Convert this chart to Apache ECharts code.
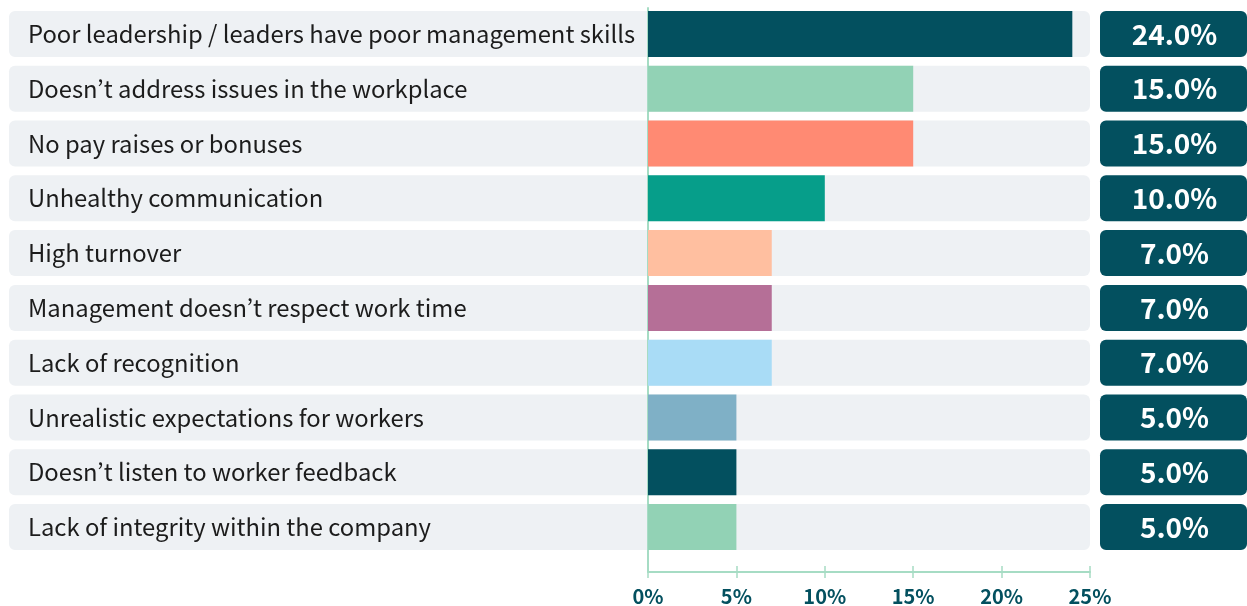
<!DOCTYPE html>
<html>
<head>
<meta charset="utf-8">
<script src="https://cdn.jsdelivr.net/npm/echarts@6/dist/echarts.min.js"></script>
<style>
  html, body { margin: 0; padding: 0; background: #ffffff; }
  #chart { width: 1247px; height: 606px; }
</style>
</head>
<body>
<div id="chart"></div>
<script>
// Reasons employees give for leaving, share of responses
const categories = [
  'Poor leadership / leaders have poor management skills',
  'Doesn\u2019t address issues in the workplace',
  'No pay raises or bonuses',
  'Unhealthy communication',
  'High turnover',
  'Management doesn\u2019t respect work time',
  'Lack of recognition',
  'Unrealistic expectations for workers',
  'Doesn\u2019t listen to worker feedback',
  'Lack of integrity within the company'
];
const values = [24.0, 15.0, 15.0, 10.0, 7.0, 7.0, 7.0, 5.0, 5.0, 5.0];
const barColors = [
  '#03505f', '#92d2b5', '#ff8a73', '#069e8a', '#ffbfa0',
  '#b56f97', '#a9dcf6', '#7fb0c6', '#03505f', '#92d2b5'
];
const valueLabels = values.map(v => v.toFixed(1) + '%');
const xMin = 0;
const xMax = 25;
const xStep = 5;

const FONT = '"Noto Sans CJK KR", "Noto Sans", sans-serif';
const DARK = '#03505f';
const AXIS_GREEN = '#a6dcc4';
const TRACK = '#eef1f4';

const chart = echarts.init(document.getElementById('chart'), null, { renderer: 'canvas' });

const option = {
  backgroundColor: '#ffffff',
  animation: false,
  textStyle: { fontFamily: FONT },
  grid: [
    { left: 648, width: 442, top: 6.5, height: 548, containLabel: false },
    { left: 648, width: 442, top: 8, bottom: 34, containLabel: false }
  ],
  xAxis: [
    { gridIndex: 0, type: 'value', min: xMin, max: xMax, show: false },
    {
      gridIndex: 1, type: 'value', min: xMin, max: xMax, interval: xStep,
      position: 'bottom',
      axisLine: { show: true, lineStyle: { color: AXIS_GREEN, width: 2 } },
      axisTick: { show: true, inside: true, length: 6, lineStyle: { color: AXIS_GREEN, width: 1.5 } },
      splitLine: { show: false },
      axisLabel: {
        show: true, margin: 14, color: DARK, fontSize: 20, fontWeight: 'bold',
        fontFamily: FONT, formatter: v => v + '%'
      }
    },
    {
      gridIndex: 1, type: 'value', min: xMin, max: xMax, interval: xStep,
      position: 'bottom',
      axisLine: { show: false },
      axisTick: { show: true, inside: false, length: 6, lineStyle: { color: AXIS_GREEN, width: 1.5 } },
      splitLine: { show: false },
      axisLabel: { show: false }
    }
  ],
  yAxis: [
    {
      gridIndex: 0, type: 'category', data: categories, inverse: true,
      axisLine: { show: false }, axisTick: { show: false }, splitLine: { show: false },
      axisLabel: {
        show: true, align: 'left', margin: 620, color: '#1c1c1c',
        fontSize: 23.8, fontFamily: FONT
      },
      z: 5
    },
    {
      gridIndex: 1, type: 'value', min: 0, max: 1,
      axisLine: { show: true, onZero: false, lineStyle: { color: AXIS_GREEN, width: 2 } },
      axisTick: { show: false }, splitLine: { show: false }, axisLabel: { show: false },
      z: 1
    }
  ],
  series: [
    {
      // light track behind each row, running from the label area to the axis max
      type: 'custom',
      xAxisIndex: 0, yAxisIndex: 0,
      z: 0,
      data: categories.map((c, i) => [xMax, i]),
      renderItem: (params, api) => {
        const end = api.coord([api.value(0), api.value(1)]);
        const h = api.size([0, 1])[1] * 0.84;
        return {
          type: 'rect',
          shape: { x: 9, y: end[1] - h / 2, width: end[0] - 9, height: h, r: 6 },
          style: { fill: TRACK }
        };
      }
    },
    {
      type: 'bar',
      xAxisIndex: 0, yAxisIndex: 0,
      z: 3,
      barWidth: 46,
      data: values.map((v, i) => ({ value: v, itemStyle: { color: barColors[i] } }))
    },
    {
      // value badges at the right edge of each row
      type: 'custom',
      xAxisIndex: 0, yAxisIndex: 0,
      z: 4,
      data: values.map((v, i) => [xMax, i, v]),
      renderItem: (params, api) => {
        const end = api.coord([api.value(0), api.value(1)]);
        const h = api.size([0, 1])[1] * 0.84;
        const x0 = end[0] + 10;
        const w = 147;
        return {
          type: 'group',
          children: [
            {
              type: 'rect',
              shape: { x: x0, y: end[1] - h / 2, width: w, height: h, r: 6 },
              style: { fill: DARK }
            },
            {
              type: 'text',
              style: {
                x: x0 + w / 2 + 1, y: end[1],
                text: valueLabels[params.dataIndex],
                fill: '#ffffff',
                font: 'bold 28px ' + FONT,
                align: 'center', verticalAlign: 'middle'
              }
            }
          ]
        };
      }
    }
  ]
};

chart.setOption(option);
</script>
</body>
</html>
